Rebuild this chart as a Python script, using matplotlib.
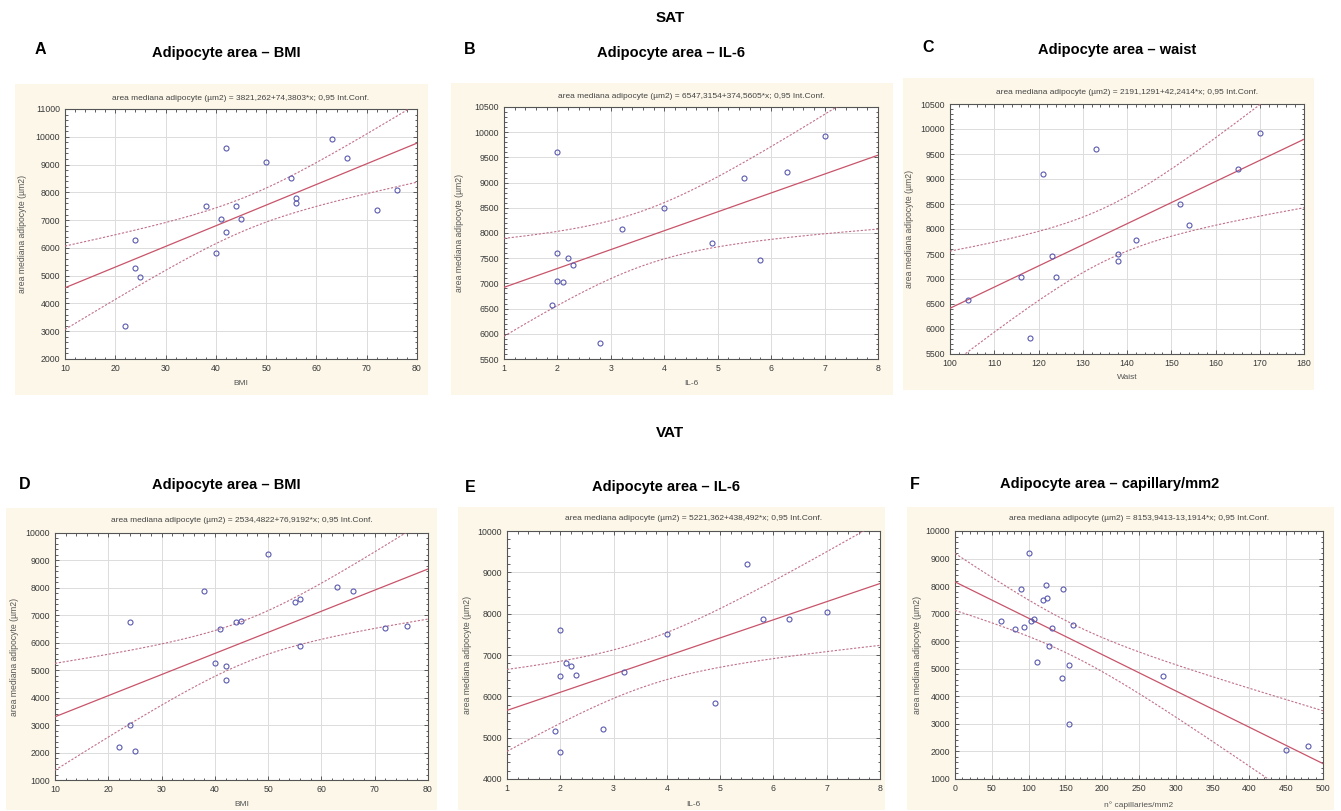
import numpy as np
import matplotlib
matplotlib.use("Agg")
import matplotlib.pyplot as plt
from matplotlib.patches import Rectangle
from matplotlib.ticker import MultipleLocator, AutoMinorLocator

plt.rcParams['font.family'] = ['Liberation Sans', 'DejaVu Sans']

# SAT - BMI
a_x = [22, 24, 24, 25, 38, 40, 41, 42, 42, 44, 45, 50, 55, 56, 56, 63, 66, 72, 76]
a_y = [3200, 6300, 5270, 4950, 7500, 5800, 7050, 6580, 9600, 7500, 7030, 9100,
       8500, 7800, 7600, 9930, 9220, 7350, 8100]
a_coef = (3821.262, 74.3803)

# SAT - IL-6
b_x = [1.9, 2.0, 2.0, 2.0, 2.1, 2.2, 2.3, 2.8, 3.2, 4.0, 4.9, 5.5, 5.8, 6.3, 7.0]
b_y = [6570, 9600, 7600, 7040, 7030, 7500, 7360, 5810, 8080, 8500, 7800, 9100,
       7460, 9210, 9920]
b_coef = (6547.3154, 374.5605)

# SAT - waist
c_x = [104, 116, 118, 121, 123, 124, 133, 138, 138, 142, 152, 154, 165, 170]
c_y = [6570, 7030, 5810, 9100, 7460, 7040, 9600, 7500, 7360, 7790, 8500, 8080,
       9210, 9920]
c_coef = (2191.1291, 42.2414)

# VAT - BMI
d_x = [22, 24, 24, 25, 38, 40, 41, 42, 42, 44, 45, 50, 55, 56, 56, 63, 66, 72, 76]
d_y = [2200, 6770, 3000, 2040, 7900, 5250, 6500, 5160, 4660, 6760, 6810, 9220,
       7500, 7590, 5870, 8050, 7900, 6540, 6620]
d_coef = (2534.4822, 76.9192)

# VAT - IL-6
e_x = [1.9, 2.0, 2.0, 2.0, 2.1, 2.2, 2.3, 2.8, 3.2, 4.0, 4.9, 5.5, 5.8, 6.3, 7.0]
e_y = [5150, 7600, 6480, 4650, 6800, 6740, 6520, 5220, 6600, 7510, 5830, 9210,
       7880, 7880, 8030]
e_coef = (5221.362, 438.492)

# VAT - capillaries
f_x = [100, 89, 123, 120, 125, 147, 63, 82, 94, 103, 108, 132, 160, 128, 111,
       155, 145, 155, 283, 450, 479]
f_y = [9200, 7880, 8030, 7490, 7580, 7880, 6740, 6430, 6510, 6740, 6790, 6490,
       6600, 5840, 5240, 5150, 4660, 2990, 4720, 2040, 2180]
f_coef = (8153.9413, -13.1914)

# two-sided 95% t quantiles by degrees of freedom
t975 = {12: 2.179, 13: 2.160, 14: 2.145, 15: 2.131, 16: 2.120, 17: 2.110,
        18: 2.101, 19: 2.093}

W, H = 1341, 811
fig = plt.figure(figsize=(W / 100, H / 100), dpi=100)
CREAM = '#fcf7e9'


def fx(px):
    return px / W


def fy(py):
    return 1 - py / H


def panel(x, y, coef, xlabel, xlim, xstep, ylim, ystep, box, cream, eq_y, xlab_y, ylab_x):
    l, t, r, b = box
    fig.patches.append(Rectangle((fx(cream[0]), fy(cream[3])), fx(cream[2] - cream[0]),
                                 (cream[3] - cream[1]) / H, transform=fig.transFigure,
                                 facecolor=CREAM, edgecolor='none', zorder=0))
    ax = fig.add_axes([fx(l), fy(b), fx(r - l), (b - t) / H])
    ax.set_zorder(2)
    ax.set_facecolor('white')
    x = np.array(x, float)
    y = np.array(y, float)
    b0, b1 = coef
    n = len(x)
    resid = y - (b0 + b1 * x)
    s = np.sqrt(np.sum(resid ** 2) / (n - 2))
    sxx = np.sum((x - x.mean()) ** 2)
    xs = np.linspace(xlim[0], xlim[1], 200)
    fit = b0 + b1 * xs
    half = t975[n - 2] * s * np.sqrt(1 / n + (xs - x.mean()) ** 2 / sxx)
    ax.plot(xs, fit, color='#c8546a', lw=0.9, zorder=3)
    ax.plot(xs, fit + half, color='#c07088', lw=0.8, ls=(0, (2, 1.5)), zorder=3)
    ax.plot(xs, fit - half, color='#c07088', lw=0.8, ls=(0, (2, 1.5)), zorder=3)
    ax.plot(x, y, 'o', ms=3.6, mfc='none', mec='#5a5ab0', mew=0.8, zorder=4)
    ax.set_xlim(xlim)
    ax.set_ylim(ylim)
    ax.xaxis.set_major_locator(MultipleLocator(xstep))
    ax.yaxis.set_major_locator(MultipleLocator(ystep))
    ax.xaxis.set_minor_locator(AutoMinorLocator(5))
    ax.yaxis.set_minor_locator(AutoMinorLocator(5))
    ax.tick_params(which='both', direction='in', top=True, right=True,
                   labelsize=6.3, colors='#444444', labelcolor='#3a3a3a', width=0.6)
    ax.tick_params(which='major', length=3)
    ax.tick_params(which='minor', length=1.8)
    ax.grid(True, which='major', color='#dcdcdc', lw=0.7)
    for sp in ax.spines.values():
        sp.set_color('#555555')
        sp.set_linewidth(0.8)
    eq = f"area mediana adipocyte (\u00b5m2) = {b0}{'+' if b1 >= 0 else '-'}{abs(b1)}*x; 0,95 Int.Conf.".replace('.', ',', 2)
    eq = eq.replace('Int,Conf', 'Int.Conf')
    fig.text(fx((l + r) / 2), fy(eq_y), eq, ha='center', va='center', fontsize=6, color='#444444')
    fig.text(fx((l + r) / 2), fy(xlab_y), xlabel, ha='center', va='center', fontsize=6, color='#555555')
    fig.text(fx(ylab_x), fy((t + b) / 2), 'area mediana adipocyte (\u00b5m2)', ha='center',
             va='center', rotation=90, fontsize=6.2, color='#555555')
    return ax


panel(a_x, a_y, a_coef, 'BMI', (10, 80), 10, (2000, 11000), 1000,
      (65, 109, 417, 359), (15, 84, 428, 395), 98, 383, 23)
panel(b_x, b_y, b_coef, 'IL-6', (1, 8), 1, (5500, 10500), 500,
      (504, 107, 878, 359), (451, 83, 893, 395), 97, 383, 460)
panel(c_x, c_y, c_coef, 'Waist', (100, 180), 10, (5500, 10500), 500,
      (950, 104, 1304, 354), (903, 78, 1314, 390), 93, 377, 910)
panel(d_x, d_y, d_coef, 'BMI', (10, 80), 10, (1000, 10000), 1000,
      (55, 533, 428, 780), (6, 508, 437, 810), 521, 805, 15)
panel(e_x, e_y, e_coef, 'IL-6', (1, 8), 1, (4000, 10000), 1000,
      (507, 531, 880, 779), (458, 507, 885, 810), 519, 805, 468)
panel(f_x, f_y, f_coef, 'n\u00b0 capillaries/mm2', (0, 500), 50, (1000, 10000), 1000,
      (955, 531, 1323, 779), (907, 507, 1334, 810), 519, 805, 917)

# headings
fig.text(fx(670), fy(18), 'SAT', ha='center', va='center', fontsize=11, fontweight='bold')
fig.text(fx(670), fy(433), 'VAT', ha='center', va='center', fontsize=11, fontweight='bold')

letters = [('A', 40, 50), ('B', 470, 50), ('C', 928, 48),
           ('D', 25, 485), ('E', 470, 487), ('F', 915, 485)]
for s, x0, y0 in letters:
    fig.text(fx(x0), fy(y0), s, ha='center', va='center', fontsize=11.5, fontweight='bold')

titles = [('Adipocyte area \u2013 BMI', 226, 53), ('Adipocyte area \u2013 IL-6', 671, 53),
          ('Adipocyte area \u2013 waist', 1117, 50), ('Adipocyte area \u2013 BMI', 226, 485),
          ('Adipocyte area \u2013 IL-6', 666, 487), ('Adipocyte area \u2013 capillary/mm2', 1110, 484)]
for s, x0, y0 in titles:
    fig.text(fx(x0), fy(y0), s, ha='center', va='center', fontsize=10.5, fontweight='bold')

fig.savefig('out.png', dpi=100)
